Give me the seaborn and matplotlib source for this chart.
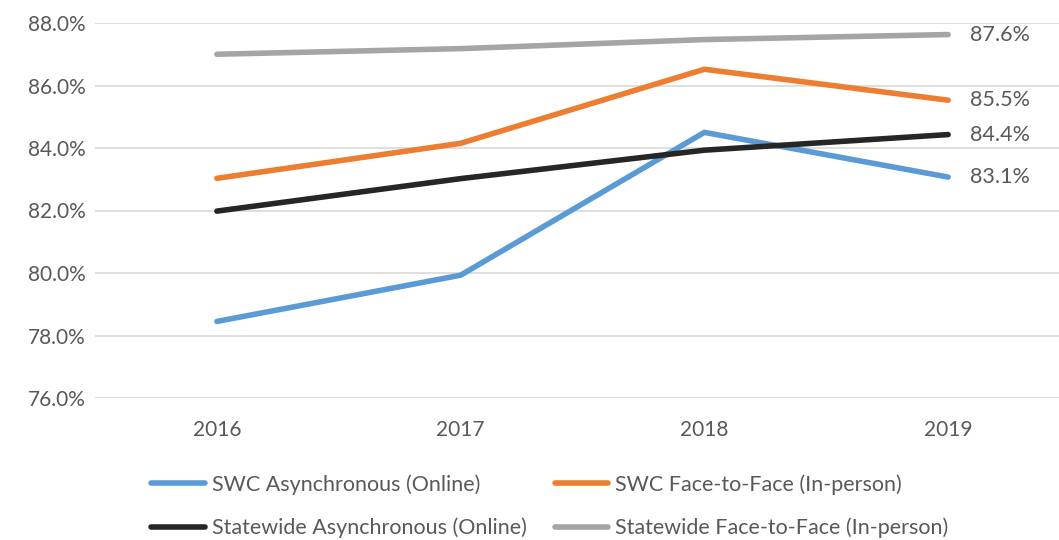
import pandas as pd
import matplotlib.pyplot as plt
import seaborn as sns
from matplotlib.ticker import PercentFormatter


YEARS = ['2016', '2017', '2018', '2019']

SERIES = [
    'SWC Asynchronous (Online)',
    'SWC Face-to-Face (In-person)',
    'Statewide Asynchronous (Online)',
    'Statewide Face-to-Face (In-person)',
]

swc_async = [78.45, 79.93, 84.5, 83.07]
swc_f2f = [83.03, 84.15, 86.52, 85.53]
state_async = [81.98, 83.02, 83.93, 84.43]
state_f2f = [87.0, 87.18, 87.47, 87.63]

END_LABELS = ['83.1%', '85.5%', '84.4%', '87.6%']

COLORS = ['#5B9BD5', '#ED7D31', '#262626', '#A5A5A5']
TEXT = '#595959'


def build_frame():
    rows = []
    for name, values in zip(SERIES, [swc_async, swc_f2f, state_async, state_f2f]):
        for year, v in zip(YEARS, values):
            rows.append({'year': year, 'series': name, 'value': v})
    return pd.DataFrame(rows)


def make_chart():
    df = build_frame()

    sns.set_theme(style='white')
    plt.rcParams['font.family'] = ['Lato', 'DejaVu Sans']

    fig = plt.figure(figsize=(10.59, 5.40), dpi=100)
    ax = fig.add_axes([95 / 1059, 1 - 398 / 540, (1070 - 95) / 1059, (398 - 23) / 540])

    sns.lineplot(
        data=df, x='year', y='value', hue='series',
        palette=COLORS, hue_order=SERIES, sort=False,
        linewidth=4, ax=ax, legend=False
    )
    for line in ax.get_lines():
        line.set_solid_capstyle('round')

    ax.set_xlim(-0.5, 3.5)
    ax.set_ylim(76, 88)
    ax.set_yticks(range(76, 89, 2))
    ax.yaxis.set_major_formatter(PercentFormatter(decimals=1))
    ax.grid(axis='y', color='#D9D9D9', linewidth=1.2)
    ax.set_axisbelow(True)
    for side in ['top', 'right', 'left', 'bottom']:
        ax.spines[side].set_visible(False)
    ax.tick_params(axis='both', colors=TEXT, labelsize=15, length=0)
    ax.tick_params(axis='x', pad=16)
    ax.tick_params(axis='y', pad=7)
    ax.set_xlabel('')
    ax.set_ylabel('')

    # end-of-line value labels
    for values, label in zip([swc_async, swc_f2f, state_async, state_f2f], END_LABELS):
        ax.annotate(label, xy=(3, values[-1]), xytext=(16, 0),
                    textcoords='offset points', va='center', ha='left',
                    fontsize=15.5, color=TEXT)

    # legend reads row by row: SWC pair on top, statewide pair below
    handles = [plt.Line2D([], [], color=c, linewidth=4, solid_capstyle='round') for c in COLORS]
    order = [0, 2, 1, 3]
    fig.legend(
        [handles[i] for i in order], [SERIES[i] for i in order],
        ncol=2, loc='upper left',
        bbox_to_anchor=(132 / 1059, 1 - 455 / 540), frameon=False,
        fontsize=15.5, labelcolor=TEXT,
        handlelength=2.5, handletextpad=0.3, columnspacing=1.3,
        labelspacing=1.05
    )

    fig.savefig('out.png', dpi=100)


if __name__ == '__main__':
    make_chart()
